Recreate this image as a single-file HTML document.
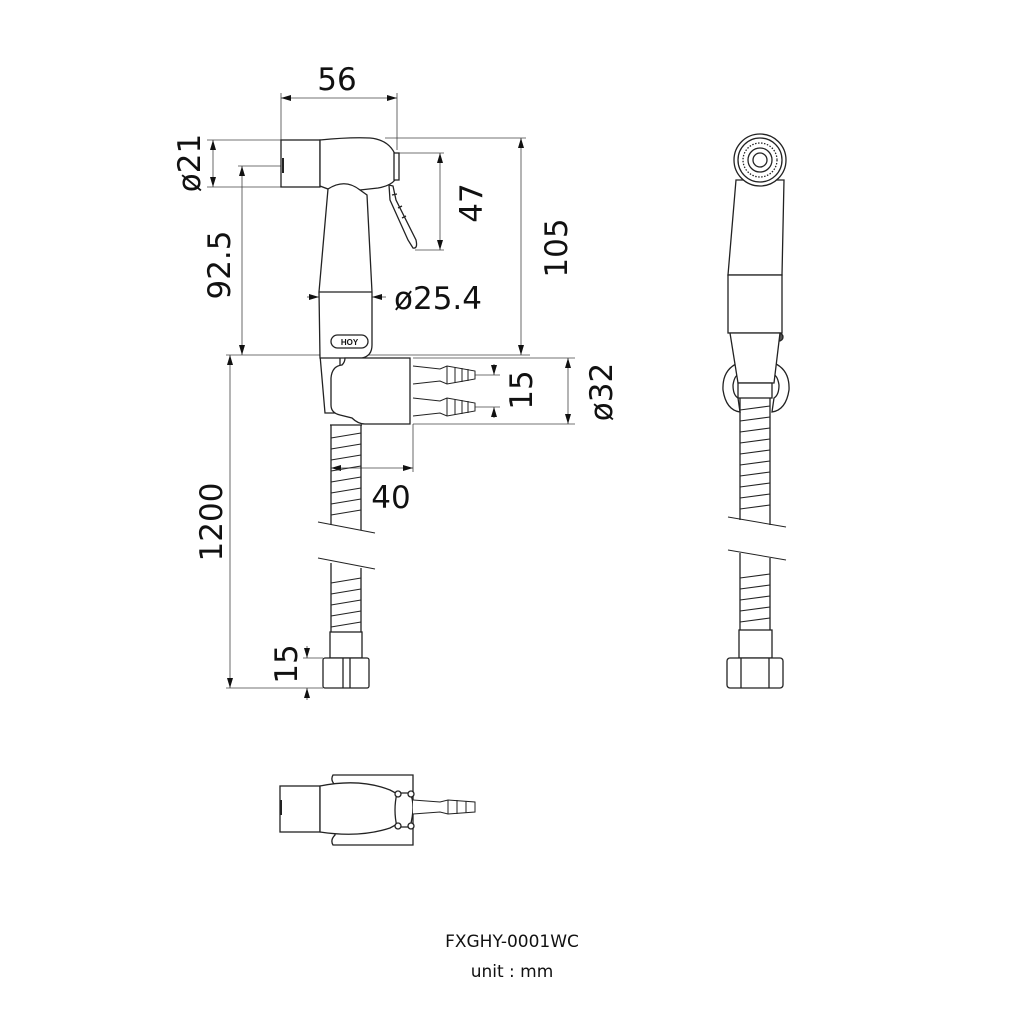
<!DOCTYPE html>
<html><head><meta charset="utf-8"><style>
html,body{margin:0;padding:0;background:#fff;}
svg{display:block;}
text{font-family:"DejaVu Sans","Liberation Sans",sans-serif;fill:#111;}
</style></head><body>
<svg width="1024" height="1024" viewBox="0 0 1024 1024" xmlns="http://www.w3.org/2000/svg">
<defs>
<marker id="a" viewBox="0 0 10 6" refX="10" refY="3" markerWidth="10" markerHeight="6" orient="auto-start-reverse" markerUnits="userSpaceOnUse"><path d="M0,0 L10,3 L0,6 z" fill="#111"/></marker>
</defs>
<g stroke="#444" stroke-width="0.8" fill="none">
<line x1="281" y1="93" x2="281" y2="140"/><line x1="397" y1="93" x2="397" y2="150"/>
<line x1="207" y1="140" x2="281" y2="140"/><line x1="207" y1="187" x2="281" y2="187"/>
<line x1="238" y1="166" x2="287" y2="166"/>
<line x1="385" y1="138" x2="526" y2="138"/>
<line x1="398" y1="153" x2="444" y2="153"/><line x1="415" y1="250" x2="444" y2="250"/>
<line x1="226" y1="355" x2="530" y2="355"/>
<line x1="413" y1="358" x2="575" y2="358"/><line x1="413" y1="424" x2="575" y2="424"/>
<line x1="475" y1="375" x2="500" y2="375"/><line x1="475" y1="407" x2="500" y2="407"/>
<line x1="413" y1="424" x2="413" y2="472"/>
<line x1="226" y1="688" x2="323" y2="688"/><line x1="303" y1="658" x2="323" y2="658"/>
<line x1="281" y1="98" x2="397" y2="98" marker-start="url(#a)" marker-end="url(#a)"/>
<line x1="213" y1="140" x2="213" y2="187" marker-start="url(#a)" marker-end="url(#a)"/>
<line x1="242" y1="166" x2="242" y2="355" marker-start="url(#a)" marker-end="url(#a)"/>
<line x1="521" y1="138" x2="521" y2="355" marker-start="url(#a)" marker-end="url(#a)"/>
<line x1="440" y1="153" x2="440" y2="250" marker-start="url(#a)" marker-end="url(#a)"/>
<line x1="568" y1="358" x2="568" y2="424" marker-start="url(#a)" marker-end="url(#a)"/>
<line x1="230" y1="355" x2="230" y2="688" marker-start="url(#a)" marker-end="url(#a)"/>
<line x1="331" y1="468" x2="413" y2="468" marker-start="url(#a)" marker-end="url(#a)"/>
<line x1="307" y1="297" x2="319" y2="297" marker-end="url(#a)"/>
<line x1="386" y1="297" x2="372" y2="297" marker-end="url(#a)"/>
<line x1="494" y1="364" x2="494" y2="375" marker-end="url(#a)"/>
<line x1="494" y1="418" x2="494" y2="407" marker-end="url(#a)"/>
<line x1="307" y1="646" x2="307" y2="658" marker-end="url(#a)"/>
<line x1="307" y1="700" x2="307" y2="688" marker-end="url(#a)"/>
</g>
<g stroke="#222" stroke-width="1.3" fill="#fff">
<rect x="281" y="140" width="39" height="47"/>
<line x1="283" y1="158" x2="283" y2="173" stroke-width="2"/>
<path d="M320,140 Q350,137 370,138 Q392,140 397,160 L395,180 Q390,186 378,188 L360,190 Q345,181 328,189 L320,186 Z"/>
<rect x="394" y="153" width="5" height="27"/>
<path d="M389,185 L393,186 L396,200 L416,240 Q418,249 413,248 L408,240 L390,200 Z"/>
<line x1="392" y1="195" x2="397" y2="194"/><line x1="398" y1="208" x2="402" y2="206"/><line x1="402" y1="218" x2="406" y2="216"/>
<!-- handle lower strip behind holder -->
<path d="M320,355 L340,355 L340,413 L325,413 Z"/>
<path d="M328,189 Q345,178 360,190 L367,195 L372,292 L372,345 Q372,356 362,358 L320,358 L319,292 Z"/>
<line x1="319" y1="292" x2="372" y2="292"/>
<rect x="331" y="335" width="37" height="13" rx="6.5"/>
<path d="M345,358 L410,358 L410,424 L365,424 Q358,424 352,418 L340,415 Q331,413 331,405 L331,378 Q332,366 342,365 Q345,362 345,358 Z"/>
<g stroke-width="1">
<path d="M413,366 L440,369 L447,366 L475,371 L475,379 L447,384 L440,381 L413,384"/>
<line x1="447" y1="366" x2="447" y2="384"/><line x1="455" y1="367" x2="455" y2="383"/><line x1="462" y1="368" x2="462" y2="382"/><line x1="468" y1="369" x2="468" y2="381"/>
<path d="M413,398 L440,401 L447,398 L475,403 L475,411 L447,416 L440,413 L413,416"/>
<line x1="447" y1="398" x2="447" y2="416"/><line x1="455" y1="399" x2="455" y2="415"/><line x1="462" y1="400" x2="462" y2="414"/><line x1="468" y1="401" x2="468" y2="413"/>
</g>
<line x1="331" y1="425" x2="331" y2="525"/><line x1="361" y1="425" x2="361" y2="530"/>
<line x1="330" y1="425" x2="362" y2="425"/>
<g stroke-width="1">
<line x1="331" y1="438" x2="361" y2="433"/><line x1="331" y1="449" x2="361" y2="444"/><line x1="331" y1="460" x2="361" y2="455"/><line x1="331" y1="471" x2="361" y2="466"/><line x1="331" y1="482" x2="361" y2="477"/><line x1="331" y1="493" x2="361" y2="488"/><line x1="331" y1="504" x2="361" y2="499"/><line x1="331" y1="515" x2="361" y2="510"/>
<line x1="318" y1="522" x2="375" y2="533"/>
<line x1="318" y1="558" x2="375" y2="569"/>
<line x1="331" y1="583" x2="361" y2="578"/><line x1="331" y1="594" x2="361" y2="589"/><line x1="331" y1="605" x2="361" y2="600"/><line x1="331" y1="616" x2="361" y2="611"/><line x1="331" y1="627" x2="361" y2="622"/>
</g>
<line x1="331" y1="563" x2="331" y2="632"/><line x1="361" y1="568" x2="361" y2="632"/>
<rect x="330" y="632" width="32" height="26"/>
<rect x="323" y="658" width="46" height="30" rx="2"/>
<line x1="343" y1="658" x2="343" y2="688"/><line x1="350" y1="658" x2="350" y2="688"/>
<!-- side view -->
<path d="M736,180 L784,180 L782,275 L728,275 Z"/>
<circle cx="760" cy="160" r="26"/>
<circle cx="760" cy="160" r="22"/>
<circle cx="760" cy="160" r="17" stroke-dasharray="1.5 1.5"/>
<circle cx="760" cy="160" r="12"/>
<circle cx="760" cy="160" r="7"/>
<rect x="728" y="275" width="54" height="58"/>
<circle cx="779" cy="337" r="4" fill="#555"/>
<path d="M738,363 Q722,370 723,390 Q726,410 740,412 L738,398 Q733,395 733,385 Q735,372 742,375 Z"/>
<path d="M774,363 Q790,370 789,390 Q786,410 772,412 L774,398 Q779,395 779,385 Q777,372 770,375 Z"/>
<path d="M730,333 L780,333 L774,383 L738,383 Z"/>
<rect x="738" y="383" width="34" height="15"/>
<line x1="740" y1="398" x2="740" y2="520"/><line x1="770" y1="398" x2="770" y2="525"/>
<g stroke-width="1">
<line x1="740" y1="410" x2="770" y2="406"/><line x1="740" y1="421" x2="770" y2="417"/><line x1="740" y1="432" x2="770" y2="428"/><line x1="740" y1="443" x2="770" y2="439"/><line x1="740" y1="454" x2="770" y2="450"/><line x1="740" y1="465" x2="770" y2="461"/><line x1="740" y1="476" x2="770" y2="472"/><line x1="740" y1="487" x2="770" y2="483"/><line x1="740" y1="498" x2="770" y2="494"/><line x1="740" y1="509" x2="770" y2="505"/>
<line x1="728" y1="517" x2="786" y2="527"/>
<line x1="728" y1="550" x2="786" y2="560"/>
<line x1="740" y1="578" x2="770" y2="574"/><line x1="740" y1="589" x2="770" y2="585"/><line x1="740" y1="600" x2="770" y2="596"/><line x1="740" y1="611" x2="770" y2="607"/><line x1="740" y1="622" x2="770" y2="618"/>
</g>
<line x1="740" y1="553" x2="740" y2="630"/><line x1="770" y1="558" x2="770" y2="630"/>
<rect x="739" y="630" width="33" height="28"/>
<rect x="727" y="658" width="56" height="30" rx="3"/>
<line x1="741" y1="658" x2="741" y2="688"/><line x1="769" y1="658" x2="769" y2="688"/>
<!-- bottom view -->
<path d="M333,775 L413,775 L413,845 L333,845 Q330,840 335,835 L335,785 Q330,780 333,775 Z"/>
<rect x="280" y="786" width="40" height="46"/>
<line x1="281" y1="800" x2="281" y2="815" stroke-width="2"/>
<path d="M320,786 Q360,778 390,790 Q410,800 402,808 Q410,818 390,828 Q360,838 320,832 Z"/>
<path d="M397,793 L410,793 Q416,805 410,827 L397,827 Q393,810 397,793 Z"/>
<circle cx="398" cy="794" r="3"/><circle cx="411" cy="794" r="3"/><circle cx="398" cy="826" r="3"/><circle cx="411" cy="826" r="3"/>
<path d="M413,800 L440,802 L448,800 L475,802 L475,812 L448,814 L440,812 L413,814" stroke-width="1"/>
<line x1="448" y1="800" x2="448" y2="814" stroke-width="1"/><line x1="457" y1="800" x2="457" y2="814" stroke-width="1"/><line x1="466" y1="801" x2="466" y2="813" stroke-width="1"/>
</g>
<text x="349.5" y="345" font-size="8" font-weight="bold" text-anchor="middle" style="font-family:'Liberation Sans',sans-serif">HOY</text>
<g font-size="31">
<text x="337" y="90" text-anchor="middle">56</text>
<text x="394" y="309">ø25.4</text>
<text x="391" y="508" text-anchor="middle">40</text>
<text transform="translate(200,163) rotate(-90)" text-anchor="middle">ø21</text>
<text transform="translate(230,265) rotate(-90)" text-anchor="middle">92.5</text>
<text transform="translate(567,248) rotate(-90)" text-anchor="middle">105</text>
<text transform="translate(482,203) rotate(-90)" text-anchor="middle">47</text>
<text transform="translate(612,392) rotate(-90)" text-anchor="middle">ø32</text>
<text transform="translate(532,390) rotate(-90)" text-anchor="middle">15</text>
<text transform="translate(222,522) rotate(-90)" text-anchor="middle">1200</text>
<text transform="translate(297,664) rotate(-90)" text-anchor="middle">15</text>
</g>
<text x="512" y="947" font-size="17" text-anchor="middle">FXGHY-0001WC</text>
<text x="512" y="977" font-size="17" text-anchor="middle">unit : mm</text>
</svg>
</body></html>
